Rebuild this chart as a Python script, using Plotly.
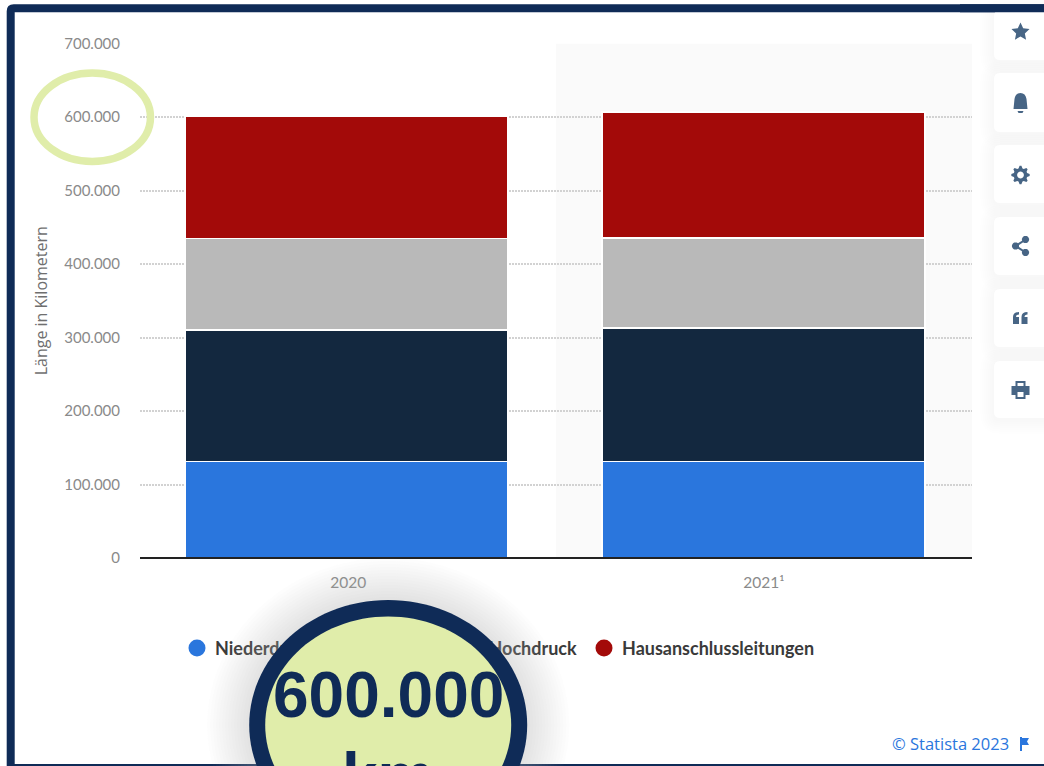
import math
import plotly.graph_objects as go

# Gas network length by pressure class, km
years = ["2020", "2021¹"]
series_names = ["Niederdruck", "Mitteldruck", "Hochdruck", "Hausanschlussleitungen"]
niederdruck = [131000, 131000]
mitteldruck = [179500, 182000]
hochdruck = [124000, 122500]
hausanschluss = [166000, 171500]
series_values = [niederdruck, mitteldruck, hochdruck, hausanschluss]
series_colors = ["#2a76dd", "#13283f", "#b9b9b9", "#a30a09"]
y_ticks = [0, 100000, 200000, 300000, 400000, 500000, 600000, 700000]

W, H = 1044, 766
NAVY = "#0f2b57"
LIME = "#e0edaa"
ICON = "#476585"

fig = go.Figure()

for name, values, color in zip(series_names, series_values, series_colors):
    fig.add_trace(go.Bar(
        x=[0, 1], y=values, name=name, showlegend=False,
        marker=dict(color=color, line=dict(color="white", width=1.5)),
        xaxis="x", yaxis="y",
    ))

# Legend row lives on a page-sized overlay so the badge can cover part of it
legend_dot_x = [197, 323, 481, 604]
legend_text_x = [215, 341, 488.5, 622]
legend_y = 648
fig.add_trace(go.Scatter(
    x=legend_dot_x, y=[legend_y] * 4, mode="markers",
    marker=dict(size=17, color=series_colors), xaxis="x2", yaxis="y2",
    showlegend=False, hoverinfo="skip", cliponaxis=False,
))
fig.add_trace(go.Scatter(
    x=legend_text_x, y=[legend_y + 2.5] * 4, mode="text", text=series_names,
    textposition="middle right",
    textfont=dict(family="Lato, sans-serif", size=18, color="#3a3a3a", weight=700),
    xaxis="x2", yaxis="y2", showlegend=False, hoverinfo="skip", cliponaxis=False,
))


def rounded_rect(x0, y0, x1, y1, r):
    return (f"M{x0+r},{y0} L{x1-r},{y0} Q{x1},{y0} {x1},{y0+r} L{x1},{y1-r} Q{x1},{y1} {x1-r},{y1} "
            f"L{x0+r},{y1} Q{x0},{y1} {x0},{y1-r} L{x0},{y0+r} Q{x0},{y0} {x0+r},{y0} Z")


def ellipse_path(cx, cy, rx, ry, n=48):
    pts = [(cx + rx * math.cos(2 * math.pi * i / n), cy + ry * math.sin(2 * math.pi * i / n)) for i in range(n)]
    return "M" + " L".join(f"{x:.2f},{y:.2f}" for x, y in pts) + " Z"


def circle_path(cx, cy, r, n=48):
    return ellipse_path(cx, cy, r, r, n)


def page_shape(path, fill="rgba(0,0,0,0)", line=None, width=0, opacity=1):
    return dict(type="path", xref="x2", yref="y2", path=path, fillcolor=fill, layer="above",
                opacity=opacity, line=dict(color=line or "rgba(0,0,0,0)", width=width))


def star(cx, cy, R):
    pts = []
    for i in range(10):
        rad = R if i % 2 == 0 else R * 0.48
        a = -math.pi / 2 + i * math.pi / 5
        pts.append(f"{cx + rad * math.cos(a):.2f},{cy + rad * math.sin(a):.2f}")
    return "M" + " L".join(pts) + " Z"


def gear(cx, cy):
    pts = []
    for i in range(32):
        rad = 9.2 if (i % 4) in (0, 1) else 6.9
        a = 2 * math.pi * (i - 0.5) / 32 - math.pi / 2
        pts.append(f"{cx + rad * math.cos(a):.2f},{cy + rad * math.sin(a):.2f}")
    return "M" + " L".join(pts) + " Z " + circle_path(cx, cy, 3.4, 20)


def bell(cx, cy):
    return (f"M{cx-7},{cy+6} L{cx-6},{cy-4} Q{cx-5},{cy-10} {cx},{cy-10} Q{cx+5},{cy-10} {cx+6},{cy-4} "
            f"L{cx+7},{cy+6} Z M{cx-3},{cy+8} L{cx+3},{cy+8} L{cx+2},{cy+10} L{cx-2},{cy+10} Z")


def quotes(cx, cy):
    def mark(x):
        return (f"M{x},{cy-1} Q{x},{cy-6} {x+6},{cy-6} L{x+6},{cy-3.5} Q{x+3},{cy-3.5} {x+3},{cy-1} "
                f"L{x+6},{cy-1} L{x+6},{cy+6} L{x},{cy+6} Z")
    return mark(cx - 7.5) + " " + mark(cx + 1)


def printer(cx, cy):
    return (f"M{cx-5},{cy-9} L{cx+5},{cy-9} L{cx+5},{cy-4} L{cx+9},{cy-4} L{cx+9},{cy+5} L{cx+5},{cy+5} "
            f"L{cx+5},{cy+9} L{cx-5},{cy+9} L{cx-5},{cy+5} L{cx-9},{cy+5} L{cx-9},{cy-4} L{cx-5},{cy-4} Z "
            f"M{cx-3},{cy-7} L{cx+3},{cy-7} L{cx+3},{cy-4} L{cx-3},{cy-4} Z "
            f"M{cx-3},{cy+2} L{cx+3},{cy+2} L{cx+3},{cy+7} L{cx-3},{cy+7} Z")


def share(cx, cy):
    parts = [circle_path(cx + 5, cy - 6.5, 3.6, 20), circle_path(cx - 5, cy, 3.6, 20),
             circle_path(cx + 5, cy + 6.5, 3.6, 20),
             f"M{cx-5},{cy-1.2} L{cx+5},{cy-7.5} L{cx+5},{cy-5.2} L{cx-5},{cy+1.2} Z",
             f"M{cx-5},{cy-1.2} L{cx+5},{cy+5.2} L{cx+5},{cy+7.5} L{cx-5},{cy+1.2} Z"]
    return parts


# Axis window chosen so the two columns are 417 px apart inside the 832 px plot
x_start, x_end = -0.4952, 1.5

shapes = [
    # Shaded column behind the provisional year
    dict(type="rect", xref="x", yref="y", x0=0.5024, x1=x_end, y0=0, y1=700000,
         fillcolor="#fafafa", line=dict(width=0), layer="below"),
    # Baseline drawn over the foot of the columns
    dict(type="line", xref="x2", yref="y2", x0=140, x1=972, y0=558, y1=558, layer="above",
         line=dict(color="#222222", width=2)),
]

# Page frame
shapes.append(dict(type="path", xref="x2", yref="y2", layer="above",
                   path=rounded_rect(10.7, 8.3, 1070, 768, 3),
                   fillcolor="rgba(0,0,0,0)", line=dict(color=NAVY, width=8)))

# Ring round the 600.000 tick
shapes.append(dict(type="circle", xref="x2", yref="y2", layer="above",
                   x0=34, x1=150.5, y0=73, y1=161.5,
                   fillcolor="rgba(0,0,0,0)", line=dict(color=LIME, width=7.5)))

# Side toolbar cards with a soft shadow
cards = [(10, 60), (73, 132), (145, 203), (217, 275), (289, 347), (361, 418)]
for top, bottom in cards:
    for grow in range(14, 0, -2):
        shapes.append(page_shape(rounded_rect(994 - grow, top - grow + 2, 1070, bottom + grow + 2, 6 + grow),
                                 fill="rgba(40,60,90,0.004)"))
    shapes.append(page_shape(rounded_rect(994, top, 1070, bottom, 6), fill="white"))

# The top card runs up behind the frame
shapes.append(dict(type="rect", xref="x2", yref="y2", layer="above", x0=960, x1=1044, y0=4.3, y1=12.3,
                   fillcolor=NAVY, line=dict(width=0)))

shapes.append(page_shape(star(1020.5, 32, 9.5), fill=ICON))
shapes.append(page_shape(bell(1020.5, 103), fill=ICON))
shapes.append(page_shape(gear(1020.5, 175), fill=ICON))
for part in share(1020.5, 246):
    shapes.append(page_shape(part, fill=ICON))
shapes.append(page_shape(quotes(1020.5, 318), fill=ICON))
shapes.append(page_shape(printer(1020.5, 390), fill=ICON))

# Small flag next to the source credit
shapes.append(page_shape("M1020,737 L1022,737 L1022,738 L1029,738 L1027,741.5 L1029,745 L1022,745 L1022,751 L1020,751 Z",
                         fill="#2a76dd"))

# Oval badge with a pale drop shadow that also veils what lies beneath it
bx, by, brx, bry = 388.2, 725, 139, 125
for grow in range(42, 0, -3):
    shapes.append(page_shape(ellipse_path(bx, by, brx + grow, bry + grow, 90), fill="rgba(180,180,180,0.028)"))
shapes.append(page_shape(ellipse_path(bx, by, brx, bry, 120), fill=NAVY))
shapes.append(page_shape(ellipse_path(bx, by, brx - 16, bry - 16.5, 120), fill=LIME))

annotations = [
    dict(xref="x2", yref="y2", x=388.2, y=695, text="<b>600.000</b>", showarrow=False,
         font=dict(family="Liberation Sans, Arial, sans-serif", size=64, color=NAVY),
         xanchor="center", yanchor="middle"),
    dict(xref="x2", yref="y2", x=388.2, y=738, text="<b>km</b>", showarrow=False,
         font=dict(family="Liberation Sans, Arial, sans-serif", size=64, color=NAVY),
         xanchor="center", yanchor="top"),
    dict(xref="x2", yref="y2", x=1011, y=743, text="© Statista 2023", showarrow=False,
         font=dict(family="Open Sans, sans-serif", size=16.5, color="#2a76dd"),
         xanchor="right", yanchor="middle"),
]

fig.update_layout(
    width=W, height=H, margin=dict(l=0, r=0, t=0, b=0, pad=0, autoexpand=False),
    paper_bgcolor="white", plot_bgcolor="rgba(0,0,0,0)",
    barmode="stack", bargap=0.225, separators=",.",
    showlegend=False, shapes=shapes, annotations=annotations,
    font=dict(family="Lato, sans-serif"),
    xaxis=dict(
        domain=[140 / W, 972 / W], range=[x_start, x_end], tickmode="array", tickvals=[0.004, 1.001], ticktext=years,
        showgrid=False, zeroline=False, showline=False,
        ticks="", tickfont=dict(family="Lato, sans-serif", size=15.5, color="#8a8a8a"), ticklabelstandoff=13,
        anchor="y", fixedrange=True, automargin=False,
    ),
    yaxis=dict(
        domain=[(H - 558) / H, (H - 43.5) / H], range=[0, 700000], tickmode="array", tickvals=y_ticks,
        tickformat=",", showgrid=True, griddash="1.5px,1.5px", gridcolor="#d2d2d2", gridwidth=1.5,
        zeroline=False, showline=False, ticks="", ticklabelstandoff=19,
        tickfont=dict(family="Lato, sans-serif", size=15, color="#8a8a8a"),
        title=dict(text="Länge in Kilometern", standoff=12,
                   font=dict(family="Open Sans, sans-serif", size=16, color="#6f6f6f")),
        anchor="x", fixedrange=True, automargin=False,
    ),
    xaxis2=dict(domain=[0, 1], range=[0, W], visible=False, anchor="y2", fixedrange=True, automargin=False),
    yaxis2=dict(domain=[0, 1], range=[H, 0], visible=False, anchor="x2", fixedrange=True, automargin=False),
)

fig.write_html("out.html", config=dict(displayModeBar=False))
